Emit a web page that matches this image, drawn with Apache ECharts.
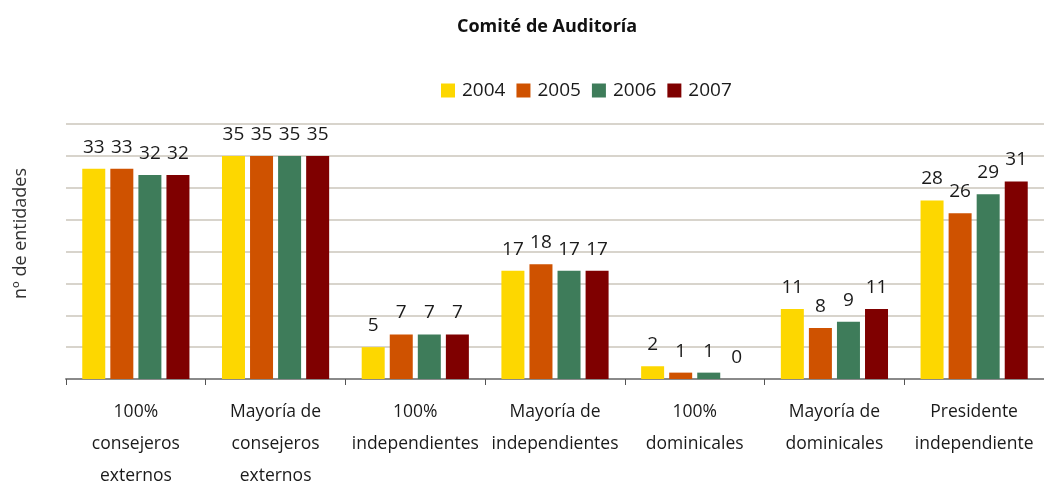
<!DOCTYPE html>
<html>
<head>
<meta charset="utf-8">
<script src="https://cdn.jsdelivr.net/npm/echarts@6/dist/echarts.min.js"></script>
<style>
  html, body { margin: 0; padding: 0; background: #fff; }
  #chart { width: 1044px; height: 492px; }
</style>
</head>
<body>
<div id="chart"></div>
<script>
// categorías del eje X
const categories = [
  '100%\nconsejeros\nexternos',
  'Mayoría de\nconsejeros\nexternos',
  '100%\nindependientes',
  'Mayoría de\nindependientes',
  '100%\ndominicales',
  'Mayoría de\ndominicales',
  'Presidente\nindependiente'
]

// valores por año
const years = ['2004', '2005', '2006', '2007']
const v2004 = [33, 35, 5, 17, 2, 11, 28]
const v2005 = [33, 35, 7, 18, 1, 8, 26]
const v2006 = [32, 35, 7, 17, 1, 9, 29]
const v2007 = [32, 35, 7, 17, 0, 11, 31]

const colors = ['#FDD700', '#CF5200', '#3E7C5A', '#7F0000']
const FONT = 'Open Sans'

const chart = echarts.init(document.getElementById('chart'))

/** construye una serie de barras */
function bar(name, data) {
  return {
    name,
    type: 'bar',
    data,
    barWidth: 23,
    barGap: '22%',
    label: {
      show: true,
      position: 'top',
      distance: 12,
      color: '#1a1a1a',
      fontFamily: FONT,
      fontSize: 19
    }
  }
}

chart.setOption({
  color: colors,
  title: {
    text: 'Comité de Auditoría',
    left: 452,
    top: 13,
    textStyle: { fontFamily: FONT, fontSize: 18, fontWeight: 'bold', color: '#111' }
  },
  legend: {
    left: 436,
    top: 76,
    itemWidth: 14,
    itemHeight: 14,
    itemGap: 11,
    icon: 'rect',
    textStyle: { fontFamily: FONT, fontSize: 19, color: '#1a1a1a', padding: [0, 0, 0, 2] },
    data: years
  },
  graphic: [{
    type: 'text',
    left: 12,
    top: 168,
    rotation: Math.PI / 2,
    style: { text: 'nº de entidades', fontFamily: FONT, fontSize: 18, fill: '#333' }
  }],
  grid: { left: 66, top: 124, width: 981, height: 262 },
  xAxis: {
    type: 'category',
    data: categories,
    axisLine: { lineStyle: { color: '#8a8a8a', width: 2 } },
    axisTick: { show: true, inside: false, length: 6, lineStyle: { color: '#555', width: 1 } },
    axisLabel: {
      interval: 0,
      margin: 17,
      lineHeight: 32,
      fontFamily: FONT,
      fontSize: 17.5,
      color: '#1a1a1a'
    }
  },
  yAxis: {
    type: 'value',
    min: 0,
    max: 40,
    interval: 5,
    axisLabel: { show: false },
    axisLine: { show: false },
    axisTick: { show: false },
    splitLine: { lineStyle: { color: '#d8d4cc', width: 2 } }
  },
  series: [
    bar(years[0], v2004),
    bar(years[1], v2005),
    bar(years[2], v2006),
    bar(years[3], v2007)
  ]
})
</script>
</body>
</html>
